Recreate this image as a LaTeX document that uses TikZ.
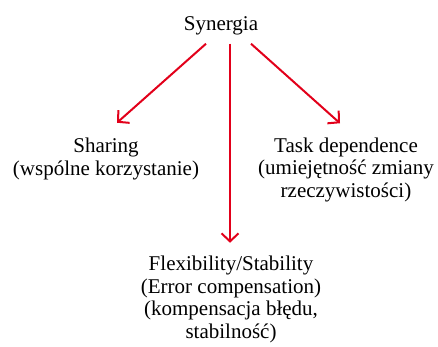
\documentclass[tikz,border=0pt]{standalone}
\usepackage{fontspec}
\setmainfont{Liberation Serif}
\usetikzlibrary{arrows.meta}
\definecolor{strzalka}{RGB}{226,0,26}
\tikzset{
	napis/.style={align=center,inner sep=0pt,font=\fontsize{21}{22.5}\selectfont},
	strz/.style={draw=strzalka,line width=2pt,-{Straight Barb[length=8pt,width=17pt,line width=2pt]}}
}
\begin{document}
\begin{tikzpicture}[x=1pt,y=1pt]
	\useasboundingbox (0,0) rectangle (438,-346);
	\node[napis,anchor=base] (syn) at (221,-30) {Synergia};
	\node[napis,anchor=base] (share) at (106,-175) {Sharing\\(wspólne korzystanie)};
	\node[napis,anchor=base] (task) at (346,-197) {Task dependence\\(umiejętność zmiany\\rzeczywistości)};
	\node[napis,anchor=base] (flex) at (231,-338) {Flexibility/Stability\\(Error compensation)\\(kompensacja błędu,\\stabilność)};
	% strzalki
	\coordinate (s1) at ([xshift=-15pt,yshift=-9pt]syn.south);
	\coordinate (s2) at ([xshift=9pt,yshift=-9pt]syn.south);
	\coordinate (s3) at ([xshift=30pt,yshift=-9pt]syn.south);
	\draw[strz] (s1) -- ([xshift=11pt,yshift=15pt]share.north);
	\draw[strz] (s2) -- ([yshift=13pt]s2 |- flex.north);
	\draw[strz] (s3) -- ([xshift=-6pt,yshift=14pt]task.north);
\end{tikzpicture}
\end{document}
